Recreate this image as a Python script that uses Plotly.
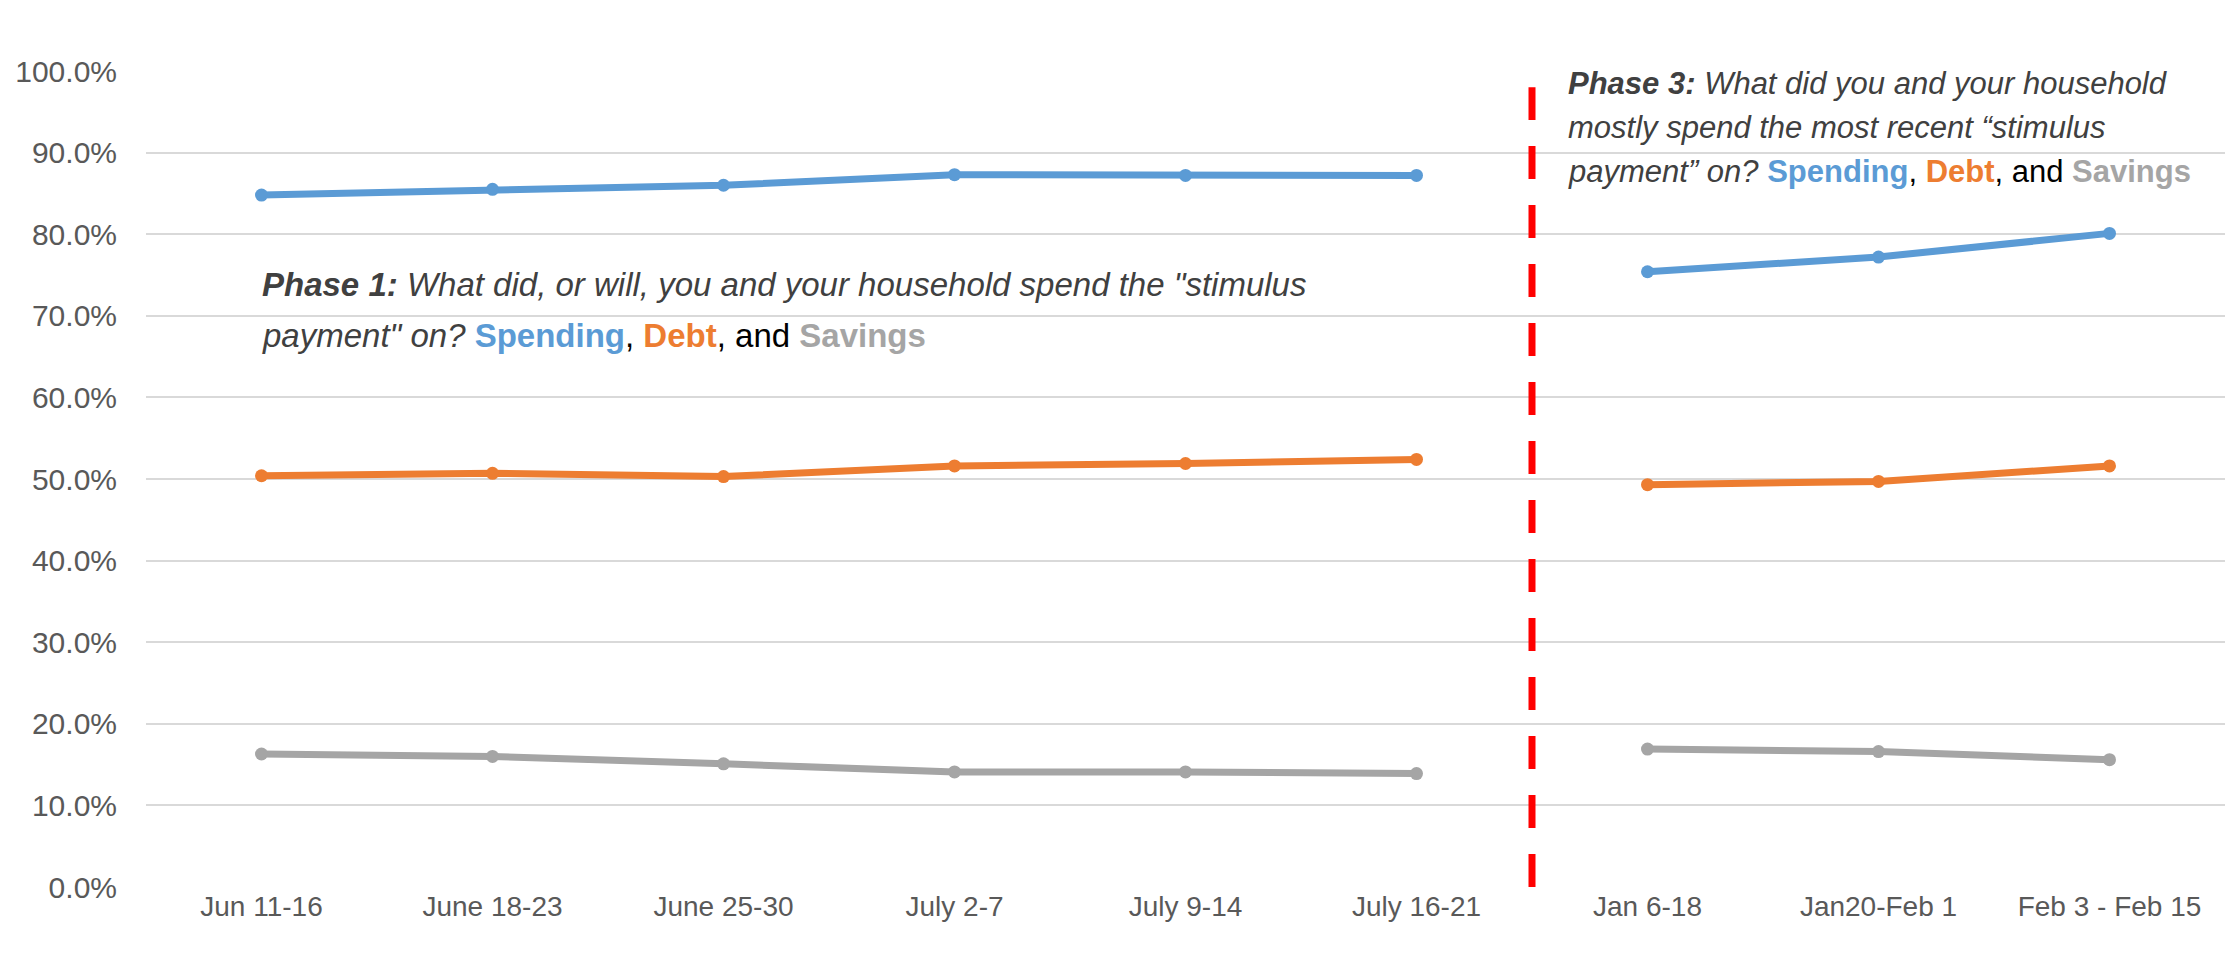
import plotly.graph_objects as go

# Survey weeks (Phase 1 in summer, Phase 3 in the following winter)
weeks = ["Jun 11-16", "June 18-23", "June 25-30", "July 2-7", "July 9-14",
         "July 16-21", "Jan 6-18", "Jan20-Feb 1", "Feb 3 - Feb 15"]

# Share of households reporting each use of the stimulus payment
spending = [0.848, 0.855, 0.860, 0.873, 0.872, 0.872, 0.754, 0.772, 0.801]
debt = [0.504, 0.507, 0.503, 0.516, 0.519, 0.524, 0.493, 0.497, 0.516]
savings = [0.163, 0.160, 0.151, 0.141, 0.141, 0.139, 0.169, 0.166, 0.156]

# Boundary between the two survey phases (between July 16-21 and Jan 6-18)
phase_break = 5.5

y_ticks = [0.0, 0.1, 0.2, 0.3, 0.4, 0.5, 0.6, 0.7, 0.8, 0.9, 1.0]

BLUE = "#5B9BD5"
ORANGE = "#ED7D31"
GRAY = "#A5A5A5"
TEXT = "#404040"
FONT = "Liberation Sans"

fig = go.Figure()

for name, values, color in [("Spending", spending, BLUE),
                            ("Debt", debt, ORANGE),
                            ("Savings", savings, GRAY)]:
    # Two separate segments so the line breaks across the phase boundary
    for idx in (range(0, 6), range(6, 9)):
        fig.add_trace(go.Scatter(
            x=[weeks[i] for i in idx],
            y=[values[i] for i in idx],
            mode="lines+markers",
            name=name,
            showlegend=False,
            line=dict(color=color, width=7),
            marker=dict(color=color, size=13),
        ))

fig.add_shape(type="line", xref="x", yref="y",
              x0=phase_break, x1=phase_break, y0=0, y1=0.98,
              line=dict(color="#FF0000", width=7, dash="33px,26px"))

def span(txt, color):
    return f"<span style='color:{color}'><b>{txt}</b></span>"

legend_words = (span("Spending", BLUE) + "<span style='color:#000000'>, </span>"
                + span("Debt", ORANGE) + "<span style='color:#000000'>, and </span>"
                + span("Savings", GRAY))

phase1_lines = [
    "<b><i>Phase 1:</i></b><i> What did, or will, you and your household spend the \"stimulus</i>",
    "<i>payment\" on? </i>" + legend_words,
]
phase3_lines = [
    "<b><i>Phase 3:</i></b><i> What did you and your household</i>",
    "<i>mostly spend the most recent \u201cstimulus</i>",
    "<i>payment\u201d on? </i>" + legend_words,
]

for i, line in enumerate(phase1_lines):
    fig.add_annotation(x=-0.005, y=0.738 - i * 0.062, xref="x", yref="y",
                       text=line, showarrow=False, xanchor="left", yanchor="middle",
                       font=dict(family=FONT, size=33, color=TEXT))

for i, line in enumerate(phase3_lines):
    fig.add_annotation(x=5.645, y=0.985 - i * 0.054, xref="x", yref="y",
                       text=line, showarrow=False, xanchor="left", yanchor="middle",
                       font=dict(family=FONT, size=31, color=TEXT))

fig.update_layout(
    width=2225, height=957,
    margin=dict(l=146, r=0, t=71, b=70),
    paper_bgcolor="white", plot_bgcolor="white",
    font=dict(family=FONT, color="#595959"),
    xaxis=dict(type="category", categoryorder="array", categoryarray=weeks,
               range=[-0.5, 8.5], showgrid=False, showline=False, zeroline=False,
               ticks="", tickfont=dict(size=28, color="#595959")),
    yaxis=dict(range=[0, 1.0], tickvals=y_ticks, tickformat=".1%",
               showgrid=True, gridcolor="#D9D9D9", gridwidth=1.5,
               zeroline=False, showline=False, ticks="",
               ticklabelstandoff=28,
               tickfont=dict(size=30, color="#595959")),
)

fig.write_html("out.html")
